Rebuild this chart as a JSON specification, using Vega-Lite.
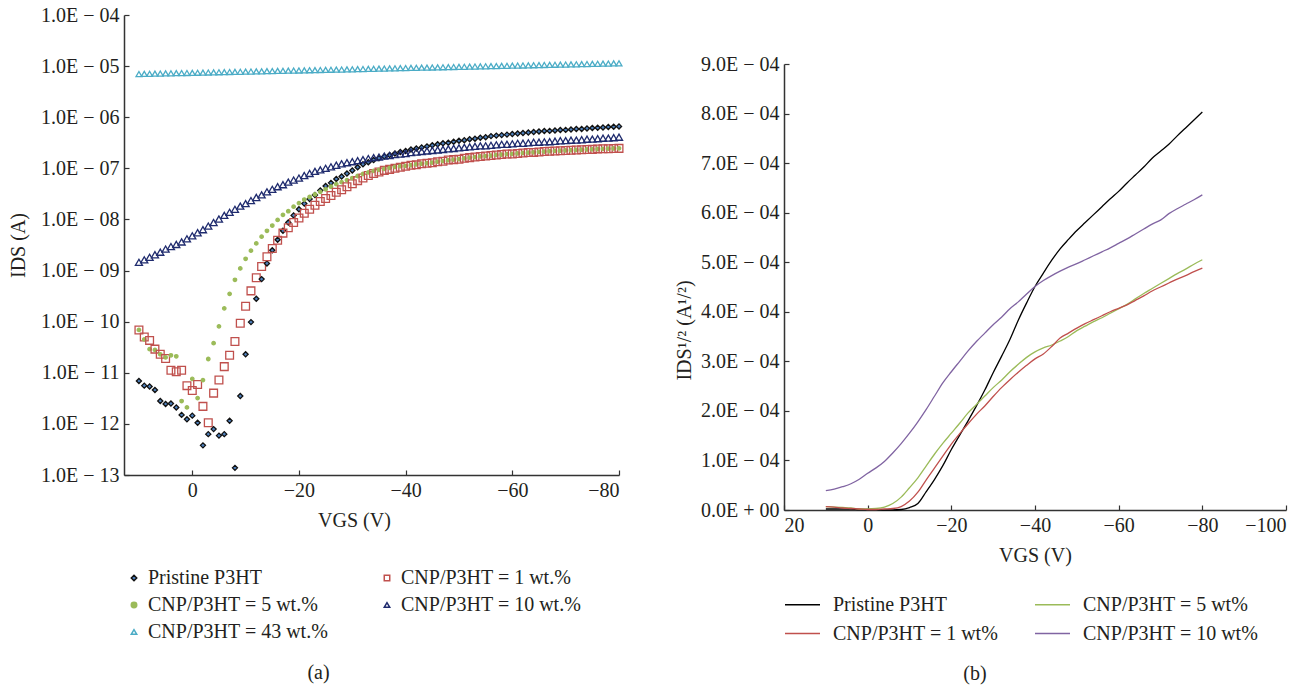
{
"$schema": "https://vega.github.io/schema/vega-lite/v6.json",
"background": "white",
"padding": {"left": 8, "top": 5, "right": 5, "bottom": 2},
"spacing": 48,
"datasets": {
"a": [
{"v":10,"p":6.9e-12,"r":6.9e-11,"g":6.9e-11,"n":1.45e-9,"c":7.00e-6},
{"v":9,"p":5.6e-12,"r":5.0e-11,"g":4.5e-11,"n":1.62e-9,"c":7.04e-6},
{"v":8,"p":5.4e-12,"r":4.3e-11,"g":2.9e-11,"n":1.82e-9,"c":7.08e-6},
{"v":7,"p":4.6e-12,"r":2.9e-11,"g":2.8e-11,"n":2.04e-9,"c":7.11e-6},
{"v":6,"p":2.8e-12,"r":2.3e-11,"g":2.3e-11,"n":2.29e-9,"c":7.15e-6},
{"v":5,"p":2.45e-12,"r":1.9e-11,"g":2.0e-11,"n":2.63e-9,"c":7.19e-6},
{"v":4,"p":2.5e-12,"r":1.12e-11,"g":2.2e-11,"n":2.95e-9,"c":7.23e-6},
{"v":3,"p":2.1e-12,"r":1.05e-11,"g":2.1e-11,"n":3.24e-9,"c":7.27e-6},
{"v":2,"p":1.5e-12,"r":1.12e-11,"g":2.8e-12,"n":3.63e-9,"c":7.31e-6},
{"v":1,"p":1.23e-12,"r":5.6e-12,"g":2.1e-12,"n":4.17e-9,"c":7.34e-6},
{"v":0,"p":1.45e-12,"r":4.5e-12,"g":7.6e-12,"n":4.79e-9,"c":7.38e-6},
{"v":-1,"p":1.05e-12,"r":5.9e-12,"g":3.2e-12,"n":5.5e-9,"c":7.42e-6},
{"v":-2,"p":3.8e-13,"r":2.2e-12,"g":7.2e-12,"n":6.31e-9,"c":7.46e-6},
{"v":-3,"p":6.3e-13,"r":1.05e-12,"g":1.86e-11,"n":7.41e-9,"c":7.50e-6},
{"v":-4,"p":7.9e-13,"r":4.0e-12,"g":3.8e-11,"n":8.71e-9,"c":7.54e-6},
{"v":-5,"p":5.9e-13,"r":7.2e-12,"g":8.1e-11,"n":1.02e-8,"c":7.59e-6},
{"v":-6,"p":6.3e-13,"r":1.32e-11,"g":1.82e-10,"n":1.2e-8,"c":7.63e-6},
{"v":-7,"p":1.15e-12,"r":2.2e-11,"g":3.5e-10,"n":1.38e-8,"c":7.67e-6},
{"v":-8,"p":1.38e-13,"r":4.1e-11,"g":6.6e-10,"n":1.58e-8,"c":7.71e-6},
{"v":-9,"p":3.5e-12,"r":9.3e-11,"g":1.1e-9,"n":1.82e-8,"c":7.75e-6},
{"v":-10,"p":2.3e-11,"r":2.0e-10,"g":1.7e-9,"n":2.04e-8,"c":7.80e-6},
{"v":-11,"p":9.8e-11,"r":4.0e-10,"g":2.45e-9,"n":2.34e-8,"c":7.84e-6},
{"v":-12,"p":2.8e-10,"r":7.2e-10,"g":3.4e-9,"n":2.69e-8,"c":7.88e-6},
{"v":-13,"p":6.8e-10,"r":1.2e-9,"g":4.6e-9,"n":3.02e-8,"c":7.92e-6},
{"v":-14,"p":1.38e-9,"r":1.86e-9,"g":6.0e-9,"n":3.47e-8,"c":7.97e-6},
{"v":-15,"p":2.5e-9,"r":2.7e-9,"g":7.6e-9,"n":3.89e-8,"c":8.01e-6},
{"v":-16,"p":4.0e-9,"r":3.9e-9,"g":9.8e-9,"n":4.37e-8,"c":8.05e-6},
{"v":-17,"p":6.0e-9,"r":5.4e-9,"g":1.23e-8,"n":4.79e-8,"c":8.09e-6},
{"v":-18,"p":8.7e-9,"r":6.9e-9,"g":1.45e-8,"n":5.37e-8,"c":8.14e-6},
{"v":-19,"p":1.2e-8,"r":8.7e-9,"g":1.78e-8,"n":5.89e-8,"c":8.18e-6},
{"v":-20,"p":1.58e-8,"r":1.07e-8,"g":2.09e-8,"n":6.46e-8,"c":8.22e-6},
{"v":-21,"p":2.04e-8,"r":1.32e-8,"g":2.45e-8,"n":7.24e-8,"c":8.27e-6},
{"v":-22,"p":2.5e-8,"r":1.58e-8,"g":2.75e-8,"n":7.94e-8,"c":8.31e-6},
{"v":-23,"p":3.0e-8,"r":1.9e-8,"g":3.09e-8,"n":8.71e-8,"c":8.36e-6},
{"v":-24,"p":3.7e-8,"r":2.24e-8,"g":3.47e-8,"n":9.33e-8,"c":8.40e-6},
{"v":-25,"p":4.5e-8,"r":2.57e-8,"g":3.89e-8,"n":1.0e-7,"c":8.45e-6},
{"v":-26,"p":5.2e-8,"r":2.95e-8,"g":4.37e-8,"n":1.07e-7,"c":8.49e-6},
{"v":-27,"p":6.2e-8,"r":3.39e-8,"g":4.9e-8,"n":1.15e-7,"c":8.54e-6},
{"v":-28,"p":6.9e-8,"r":3.8e-8,"g":5.37e-8,"n":1.23e-7,"c":8.58e-6},
{"v":-29,"p":7.9e-8,"r":4.37e-8,"g":5.89e-8,"n":1.29e-7,"c":8.63e-6},
{"v":-30,"p":9.1e-8,"r":5.01e-8,"g":6.46e-8,"n":1.35e-7,"c":8.67e-6},
{"v":-31,"p":1.05e-7,"r":5.75e-8,"g":7.08e-8,"n":1.41e-7,"c":8.72e-6},
{"v":-32,"p":1.2e-7,"r":6.46e-8,"g":7.76e-8,"n":1.48e-7,"c":8.77e-6},
{"v":-33,"p":1.32e-7,"r":7.24e-8,"g":8.32e-8,"n":1.55e-7,"c":8.82e-6},
{"v":-34,"p":1.45e-7,"r":7.94e-8,"g":8.91e-8,"n":1.62e-7,"c":8.86e-6},
{"v":-35,"p":1.58e-7,"r":8.51e-8,"g":9.33e-8,"n":1.66e-7,"c":8.91e-6},
{"v":-36,"p":1.7e-7,"r":9.12e-8,"g":9.77e-8,"n":1.74e-7,"c":8.96e-6},
{"v":-37,"p":1.82e-7,"r":9.55e-8,"g":1.02e-7,"n":1.78e-7,"c":9.01e-6},
{"v":-38,"p":1.95e-7,"r":1.0e-7,"g":1.07e-7,"n":1.86e-7,"c":9.06e-6},
{"v":-39,"p":2.09e-7,"r":1.05e-7,"g":1.1e-7,"n":1.91e-7,"c":9.11e-6},
{"v":-40,"p":2.19e-7,"r":1.1e-7,"g":1.12e-7,"n":1.95e-7,"c":9.16e-6},
{"v":-41,"p":2.34e-7,"r":1.15e-7,"g":1.15e-7,"n":2.04e-7,"c":9.21e-6},
{"v":-42,"p":2.45e-7,"r":1.17e-7,"g":1.2e-7,"n":2.09e-7,"c":9.26e-6},
{"v":-43,"p":2.57e-7,"r":1.23e-7,"g":1.23e-7,"n":2.14e-7,"c":9.31e-6},
{"v":-44,"p":2.69e-7,"r":1.26e-7,"g":1.26e-7,"n":2.19e-7,"c":9.36e-6},
{"v":-45,"p":2.82e-7,"r":1.29e-7,"g":1.3e-7,"n":2.24e-7,"c":9.41e-6},
{"v":-46,"p":2.95e-7,"r":1.35e-7,"g":1.35e-7,"n":2.29e-7,"c":9.46e-6},
{"v":-47,"p":3.09e-7,"r":1.38e-7,"g":1.39e-7,"n":2.34e-7,"c":9.51e-6},
{"v":-48,"p":3.16e-7,"r":1.45e-7,"g":1.44e-7,"n":2.4e-7,"c":9.56e-6},
{"v":-49,"p":3.31e-7,"r":1.48e-7,"g":1.48e-7,"n":2.45e-7,"c":9.61e-6},
{"v":-50,"p":3.47e-7,"r":1.51e-7,"g":1.52e-7,"n":2.51e-7,"c":9.66e-6},
{"v":-51,"p":3.55e-7,"r":1.58e-7,"g":1.57e-7,"n":2.57e-7,"c":9.71e-6},
{"v":-52,"p":3.72e-7,"r":1.62e-7,"g":1.62e-7,"n":2.63e-7,"c":9.77e-6},
{"v":-53,"p":3.8e-7,"r":1.66e-7,"g":1.66e-7,"n":2.69e-7,"c":9.82e-6},
{"v":-54,"p":3.98e-7,"r":1.7e-7,"g":1.71e-7,"n":2.75e-7,"c":9.87e-6},
{"v":-55,"p":4.07e-7,"r":1.74e-7,"g":1.74e-7,"n":2.76e-7,"c":9.93e-6},
{"v":-56,"p":4.27e-7,"r":1.78e-7,"g":1.78e-7,"n":2.82e-7,"c":9.98e-6},
{"v":-57,"p":4.37e-7,"r":1.82e-7,"g":1.83e-7,"n":2.88e-7,"c":1.003e-5},
{"v":-58,"p":4.47e-7,"r":1.86e-7,"g":1.86e-7,"n":2.95e-7,"c":1.009e-5},
{"v":-59,"p":4.57e-7,"r":1.9e-7,"g":1.9e-7,"n":2.96e-7,"c":1.014e-5},
{"v":-60,"p":4.68e-7,"r":1.91e-7,"g":1.92e-7,"n":3.02e-7,"c":1.019e-5},
{"v":-61,"p":4.79e-7,"r":1.95e-7,"g":1.96e-7,"n":3.09e-7,"c":1.025e-5},
{"v":-62,"p":4.9e-7,"r":2.0e-7,"g":2.0e-7,"n":3.1e-7,"c":1.030e-5},
{"v":-63,"p":5.01e-7,"r":2.04e-7,"g":2.04e-7,"n":3.16e-7,"c":1.036e-5},
{"v":-64,"p":5.13e-7,"r":2.05e-7,"g":2.06e-7,"n":3.24e-7,"c":1.041e-5},
{"v":-65,"p":5.25e-7,"r":2.09e-7,"g":2.1e-7,"n":3.25e-7,"c":1.047e-5},
{"v":-66,"p":5.37e-7,"r":2.14e-7,"g":2.13e-7,"n":3.31e-7,"c":1.053e-5},
{"v":-67,"p":5.4e-7,"r":2.15e-7,"g":2.16e-7,"n":3.32e-7,"c":1.058e-5},
{"v":-68,"p":5.5e-7,"r":2.19e-7,"g":2.19e-7,"n":3.39e-7,"c":1.064e-5},
{"v":-69,"p":5.62e-7,"r":2.2e-7,"g":2.21e-7,"n":3.47e-7,"c":1.070e-5},
{"v":-70,"p":5.65e-7,"r":2.24e-7,"g":2.24e-7,"n":3.48e-7,"c":1.075e-5},
{"v":-71,"p":5.75e-7,"r":2.25e-7,"g":2.26e-7,"n":3.55e-7,"c":1.081e-5},
{"v":-72,"p":5.89e-7,"r":2.29e-7,"g":2.29e-7,"n":3.56e-7,"c":1.087e-5},
{"v":-73,"p":5.9e-7,"r":2.3e-7,"g":2.31e-7,"n":3.63e-7,"c":1.093e-5},
{"v":-74,"p":6.03e-7,"r":2.34e-7,"g":2.34e-7,"n":3.72e-7,"c":1.099e-5},
{"v":-75,"p":6.17e-7,"r":2.35e-7,"g":2.36e-7,"n":3.73e-7,"c":1.105e-5},
{"v":-76,"p":6.2e-7,"r":2.4e-7,"g":2.39e-7,"n":3.8e-7,"c":1.111e-5},
{"v":-77,"p":6.31e-7,"r":2.41e-7,"g":2.41e-7,"n":3.89e-7,"c":1.117e-5},
{"v":-78,"p":6.46e-7,"r":2.42e-7,"g":2.43e-7,"n":3.9e-7,"c":1.123e-5},
{"v":-79,"p":6.5e-7,"r":2.45e-7,"g":2.45e-7,"n":3.98e-7,"c":1.129e-5},
{"v":-80,"p":6.61e-7,"r":2.46e-7,"g":2.47e-7,"n":4.07e-7,"c":1.135e-5}
],
"b": [
{"v":10,"p":2e-6,"g":7e-6,"r":7e-6,"u":3.9e-5},
{"v":8,"p":2e-6,"g":6e-6,"r":6e-6,"u":4.2e-5},
{"v":6,"p":2e-6,"g":5e-6,"r":4e-6,"u":4.7e-5},
{"v":4,"p":2e-6,"g":4e-6,"r":3e-6,"u":5.3e-5},
{"v":2,"p":1e-6,"g":2e-6,"r":2e-6,"u":6.2e-5},
{"v":0,"p":1e-6,"g":2e-6,"r":1e-6,"u":7.4e-5},
{"v":-2,"p":1e-6,"g":3e-6,"r":1e-6,"u":8.5e-5},
{"v":-4,"p":0,"g":6e-6,"r":2e-6,"u":9.8e-5},
{"v":-6,"p":0,"g":1.3e-5,"r":3e-6,"u":1.15e-4},
{"v":-8,"p":1e-6,"g":2.6e-5,"r":7e-6,"u":1.34e-4},
{"v":-10,"p":5e-6,"g":4.5e-5,"r":1.8e-5,"u":1.55e-4},
{"v":-12,"p":1.3e-5,"g":6.5e-5,"r":3.6e-5,"u":1.78e-4},
{"v":-14,"p":3.7e-5,"g":8.9e-5,"r":6.1e-5,"u":2.03e-4},
{"v":-16,"p":6.2e-5,"g":1.13e-4,"r":8.5e-5,"u":2.30e-4},
{"v":-18,"p":9.0e-5,"g":1.35e-4,"r":1.09e-4,"u":2.57e-4},
{"v":-20,"p":1.22e-4,"g":1.55e-4,"r":1.33e-4,"u":2.79e-4},
{"v":-22,"p":1.51e-4,"g":1.75e-4,"r":1.54e-4,"u":3.00e-4},
{"v":-24,"p":1.80e-4,"g":1.96e-4,"r":1.74e-4,"u":3.21e-4},
{"v":-26,"p":2.10e-4,"g":2.13e-4,"r":1.93e-4,"u":3.40e-4},
{"v":-28,"p":2.42e-4,"g":2.30e-4,"r":2.10e-4,"u":3.57e-4},
{"v":-30,"p":2.77e-4,"g":2.47e-4,"r":2.29e-4,"u":3.74e-4},
{"v":-32,"p":3.10e-4,"g":2.62e-4,"r":2.47e-4,"u":3.89e-4},
{"v":-34,"p":3.44e-4,"g":2.79e-4,"r":2.63e-4,"u":4.06e-4},
{"v":-36,"p":3.83e-4,"g":2.94e-4,"r":2.78e-4,"u":4.20e-4},
{"v":-38,"p":4.18e-4,"g":3.08e-4,"r":2.92e-4,"u":4.36e-4},
{"v":-40,"p":4.51e-4,"g":3.19e-4,"r":3.05e-4,"u":4.51e-4},
{"v":-42,"p":4.78e-4,"g":3.27e-4,"r":3.15e-4,"u":4.63e-4},
{"v":-44,"p":5.04e-4,"g":3.33e-4,"r":3.30e-4,"u":4.73e-4},
{"v":-46,"p":5.27e-4,"g":3.41e-4,"r":3.47e-4,"u":4.82e-4},
{"v":-48,"p":5.46e-4,"g":3.50e-4,"r":3.57e-4,"u":4.90e-4},
{"v":-50,"p":5.64e-4,"g":3.62e-4,"r":3.67e-4,"u":4.97e-4},
{"v":-52,"p":5.80e-4,"g":3.71e-4,"r":3.76e-4,"u":5.05e-4},
{"v":-54,"p":5.96e-4,"g":3.80e-4,"r":3.84e-4,"u":5.13e-4},
{"v":-56,"p":6.12e-4,"g":3.88e-4,"r":3.92e-4,"u":5.21e-4},
{"v":-58,"p":6.28e-4,"g":3.97e-4,"r":4.00e-4,"u":5.29e-4},
{"v":-60,"p":6.43e-4,"g":4.06e-4,"r":4.07e-4,"u":5.38e-4},
{"v":-62,"p":6.60e-4,"g":4.15e-4,"r":4.14e-4,"u":5.47e-4},
{"v":-64,"p":6.76e-4,"g":4.26e-4,"r":4.23e-4,"u":5.57e-4},
{"v":-66,"p":6.92e-4,"g":4.37e-4,"r":4.32e-4,"u":5.67e-4},
{"v":-68,"p":7.10e-4,"g":4.47e-4,"r":4.42e-4,"u":5.77e-4},
{"v":-70,"p":7.24e-4,"g":4.57e-4,"r":4.50e-4,"u":5.85e-4},
{"v":-72,"p":7.38e-4,"g":4.67e-4,"r":4.58e-4,"u":5.98e-4},
{"v":-74,"p":7.55e-4,"g":4.77e-4,"r":4.66e-4,"u":6.08e-4},
{"v":-76,"p":7.71e-4,"g":4.86e-4,"r":4.73e-4,"u":6.17e-4},
{"v":-78,"p":7.87e-4,"g":4.96e-4,"r":4.81e-4,"u":6.26e-4},
{"v":-80,"p":8.03e-4,"g":5.05e-4,"r":4.88e-4,"u":6.36e-4}
]
},
"hconcat": [
{
"width": 495,
"height": 460,
"data": {"name": "a"},
"transform": [{"fold": ["p", "r", "g", "n", "c"], "as": ["s", "i"]}],
"title": {"text": "(a)", "orient": "bottom", "anchor": "middle", "dx": -53, "offset": 21},
"mark": {"type": "point", "opacity": 1, "strokeWidth": 1.3},
"encoding": {
"x": {"field": "v", "type": "quantitative",
"scale": {"domain": [12.8, -80], "nice": false, "zero": false},
"axis": {"values": [0, -20, -40, -60, -80], "title": "VGS (V)", "titleX": 230, "titlePadding": 10}},
"y": {"field": "i", "type": "quantitative",
"scale": {"type": "log", "domain": [1e-13, 1e-4], "nice": false},
"axis": {"values": [1e-13, 1e-12, 1e-11, 1e-10, 1e-9, 1e-8, 1e-7, 1e-6, 1e-5, 1e-4],
"labelExpr": "'1.0E − ' + (round(-log(datum.value)/LN10) < 10 ? '0' : '') + round(-log(datum.value)/LN10)",
"title": "IDS (A)", "titlePadding": 12}},
"shape": {"field": "s", "type": "nominal",
"scale": {"domain": ["p", "r", "g", "n", "c"], "range": ["diamond", "square", "circle", "triangle-up", "triangle-up"]},
"legend": {"orient": "bottom", "columns": 2, "title": null, "offset": 38, "columnPadding": 48, "rowPadding": 7, "labelOffset": 4, "symbolSize": 30, "symbolStrokeWidth": 1.5, "padding": 0,
"labelExpr": "datum.label == 'p' ? 'Pristine P3HT' : datum.label == 'r' ? 'CNP/P3HT = 1 wt.%' : datum.label == 'g' ? 'CNP/P3HT = 5 wt.%' : datum.label == 'n' ? 'CNP/P3HT = 10 wt.%' : 'CNP/P3HT = 43 wt.%'"}},
"fill": {"field": "s", "type": "nominal",
"scale": {"domain": ["p", "r", "g", "n", "c"], "range": ["#4f81bd", "transparent", "#9bbb59", "transparent", "transparent"]},
"legend": {"orient": "bottom", "columns": 2, "title": null, "offset": 38, "columnPadding": 48, "rowPadding": 7, "labelOffset": 4, "symbolSize": 30, "symbolStrokeWidth": 1.5, "padding": 0,
"labelExpr": "datum.label == 'p' ? 'Pristine P3HT' : datum.label == 'r' ? 'CNP/P3HT = 1 wt.%' : datum.label == 'g' ? 'CNP/P3HT = 5 wt.%' : datum.label == 'n' ? 'CNP/P3HT = 10 wt.%' : 'CNP/P3HT = 43 wt.%'"}},
"stroke": {"field": "s", "type": "nominal",
"scale": {"domain": ["p", "r", "g", "n", "c"], "range": ["#111111", "#c0504d", "#9bbb59", "#1f2b6e", "#4bacc6"]},
"legend": {"orient": "bottom", "columns": 2, "title": null, "offset": 38, "columnPadding": 48, "rowPadding": 7, "labelOffset": 4, "symbolSize": 30, "symbolStrokeWidth": 1.5, "padding": 0,
"labelExpr": "datum.label == 'p' ? 'Pristine P3HT' : datum.label == 'r' ? 'CNP/P3HT = 1 wt.%' : datum.label == 'g' ? 'CNP/P3HT = 5 wt.%' : datum.label == 'n' ? 'CNP/P3HT = 10 wt.%' : 'CNP/P3HT = 43 wt.%'"}},
"size": {"condition": [
{"test": "datum.s === 'p'", "value": 26},
{"test": "datum.s === 'r'", "value": 60},
{"test": "datum.s === 'g'", "value": 12},
{"test": "datum.s === 'n'", "value": 50}
], "value": 34}
}
},
{
"width": 502,
"height": 495,
"data": {"name": "b"},
"transform": [{"fold": ["p", "g", "r", "u"], "as": ["t", "w"]}],
"title": {"text": "(b)", "orient": "bottom", "anchor": "middle", "dx": -60, "offset": 20},
"mark": {"type": "line", "strokeWidth": 1.3, "interpolate": "monotone"},
"encoding": {
"x": {"field": "v", "type": "quantitative",
"scale": {"domain": [20, -100], "nice": false, "zero": false},
"axis": {"values": [20, 0, -20, -40, -60, -80, -100], "title": "VGS (V)", "titlePadding": 10}},
"y": {"field": "w", "type": "quantitative",
"scale": {"domain": [0, 0.0009], "range": [495, 49], "nice": false},
"axis": {"values": [0, 0.0001, 0.0002, 0.0003, 0.0004, 0.0005, 0.0006, 0.0007, 0.0008, 0.0009],
"labelExpr": "datum.value == 0 ? '0.0E + 00' : format(datum.value * 10000, '.1f') + 'E − 04'",
"title": "IDS¹/² (A¹/²)", "titlePadding": 6, "titleY": 315}},
"color": {"field": "t", "type": "nominal",
"scale": {"domain": ["p", "g", "r", "u"], "range": ["#000000", "#9bbb59", "#c0504d", "#8064a2"]},
"legend": {"orient": "bottom", "columns": 2, "title": null, "offset": 21, "columnPadding": 33, "rowPadding": -2, "labelOffset": 12, "symbolSize": 1225, "symbolStrokeWidth": 1.5,
"labelExpr": "datum.label == 'p' ? 'Pristine P3HT' : datum.label == 'g' ? 'CNP/P3HT = 5 wt%' : datum.label == 'r' ? 'CNP/P3HT = 1 wt%' : 'CNP/P3HT = 10 wt%'"}}
}
}
],
"resolve": {"scale": {"x": "independent", "y": "independent", "color": "independent", "shape": "independent", "fill": "independent", "stroke": "independent"}},
"config": {
"view": {"stroke": null},
"font": "Liberation Serif",
"axis": {"grid": false, "domainColor": "#333333", "domainWidth": 1.5, "tickColor": "#333333", "tickWidth": 1.2, "tickSize": -5, "labelPadding": 10,
"labelFont": "Liberation Serif", "labelFontSize": 20, "labelColor": "#231f20",
"titleFont": "Liberation Serif", "titleFontSize": 20, "titleFontWeight": "normal", "titleColor": "#231f20"},
"legend": {"labelFont": "Liberation Serif", "labelFontSize": 20, "labelColor": "#231f20", "labelLimit": 400},
"title": {"font": "Liberation Serif", "fontSize": 20, "fontWeight": "normal", "color": "#231f20"}
}
}
